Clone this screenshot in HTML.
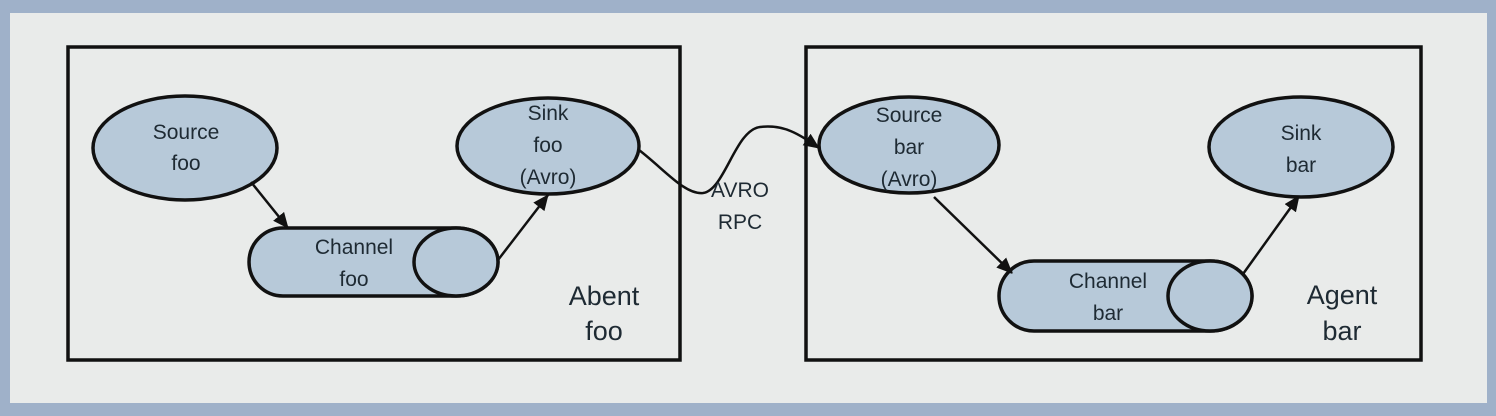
<!DOCTYPE html>
<html><head><style>
html,body{margin:0;padding:0;}
body{width:1496px;height:416px;background:#9fb1c9;position:relative;overflow:hidden;}
</style></head><body>
<svg width="1496" height="416" viewBox="0 0 1496 416" xmlns="http://www.w3.org/2000/svg" style="position:absolute;left:0;top:0">
<defs>
<marker id="ah2" markerWidth="16" markerHeight="14" refX="15" refY="7" orient="auto" markerUnits="userSpaceOnUse">
<path d="M0,0 L16,7 L0,14 z" fill="#111"/>
</marker>
</defs>
<rect x="10" y="13" width="1477" height="390" fill="#e9ebea"/>
<rect x="68" y="47" width="612" height="313" fill="none" stroke="#111" stroke-width="3.5"/>
<rect x="806" y="47" width="615" height="313" fill="none" stroke="#111" stroke-width="3.5"/>
<g fill="#b7c9d9" stroke="#111" stroke-width="3.5">
<ellipse cx="185" cy="148" rx="92" ry="52"/>
<ellipse cx="548" cy="146" rx="91" ry="48"/>
<ellipse cx="909" cy="145" rx="90" ry="48"/>
<ellipse cx="1301" cy="147" rx="92" ry="50"/>
<path d="M283,228 L456,228 A42,34 0 0 1 456,296 L283,296 A34,34 0 0 1 283,228 z"/>
<ellipse cx="456" cy="262" rx="42" ry="34"/>
<path d="M1034,261 L1210,261 A42,35 0 0 1 1210,331 L1034,331 A35,35 0 0 1 1034,261 z"/>
<ellipse cx="1210" cy="296" rx="42" ry="35"/>
</g>
<g stroke="#111" stroke-width="2.5" fill="none">
<line x1="251" y1="182" x2="288" y2="228" marker-end="url(#ah2)"/>
<line x1="498" y1="260" x2="548" y2="195" marker-end="url(#ah2)"/>
<line x1="934" y1="197" x2="1012" y2="273" marker-end="url(#ah2)"/>
<line x1="1243" y1="274" x2="1299" y2="196" marker-end="url(#ah2)"/>
<path d="M639,150 C665,170 685,195 703,193 C725,190 735,130 760,127 C785,124 800,135 819,148" marker-end="url(#ah2)"/>
</g>
<g font-family="'Liberation Sans Narrow','Liberation Sans',sans-serif" font-size="21" fill="#1e2a33" text-anchor="middle">
<text x="186" y="139">Source</text><text x="186" y="170">foo</text>
<text x="548" y="120">Sink</text><text x="548" y="152">foo</text><text x="548" y="184">(Avro)</text>
<text x="354" y="254">Channel</text><text x="354" y="286">foo</text>
<text x="909" y="122">Source</text><text x="909" y="154">bar</text><text x="909" y="186">(Avro)</text>
<text x="1301" y="140">Sink</text><text x="1301" y="172">bar</text>
<text x="1108" y="288">Channel</text><text x="1108" y="320">bar</text>
<text x="740" y="197">AVRO</text><text x="740" y="229">RPC</text>
</g>
<g font-family="'Liberation Sans Narrow','Liberation Sans',sans-serif" font-size="27" fill="#1e2a33" text-anchor="middle">
<text x="604" y="305">Abent</text><text x="604" y="340">foo</text>
<text x="1342" y="304">Agent</text><text x="1342" y="340">bar</text>
</g>
</svg>
</body></html>
